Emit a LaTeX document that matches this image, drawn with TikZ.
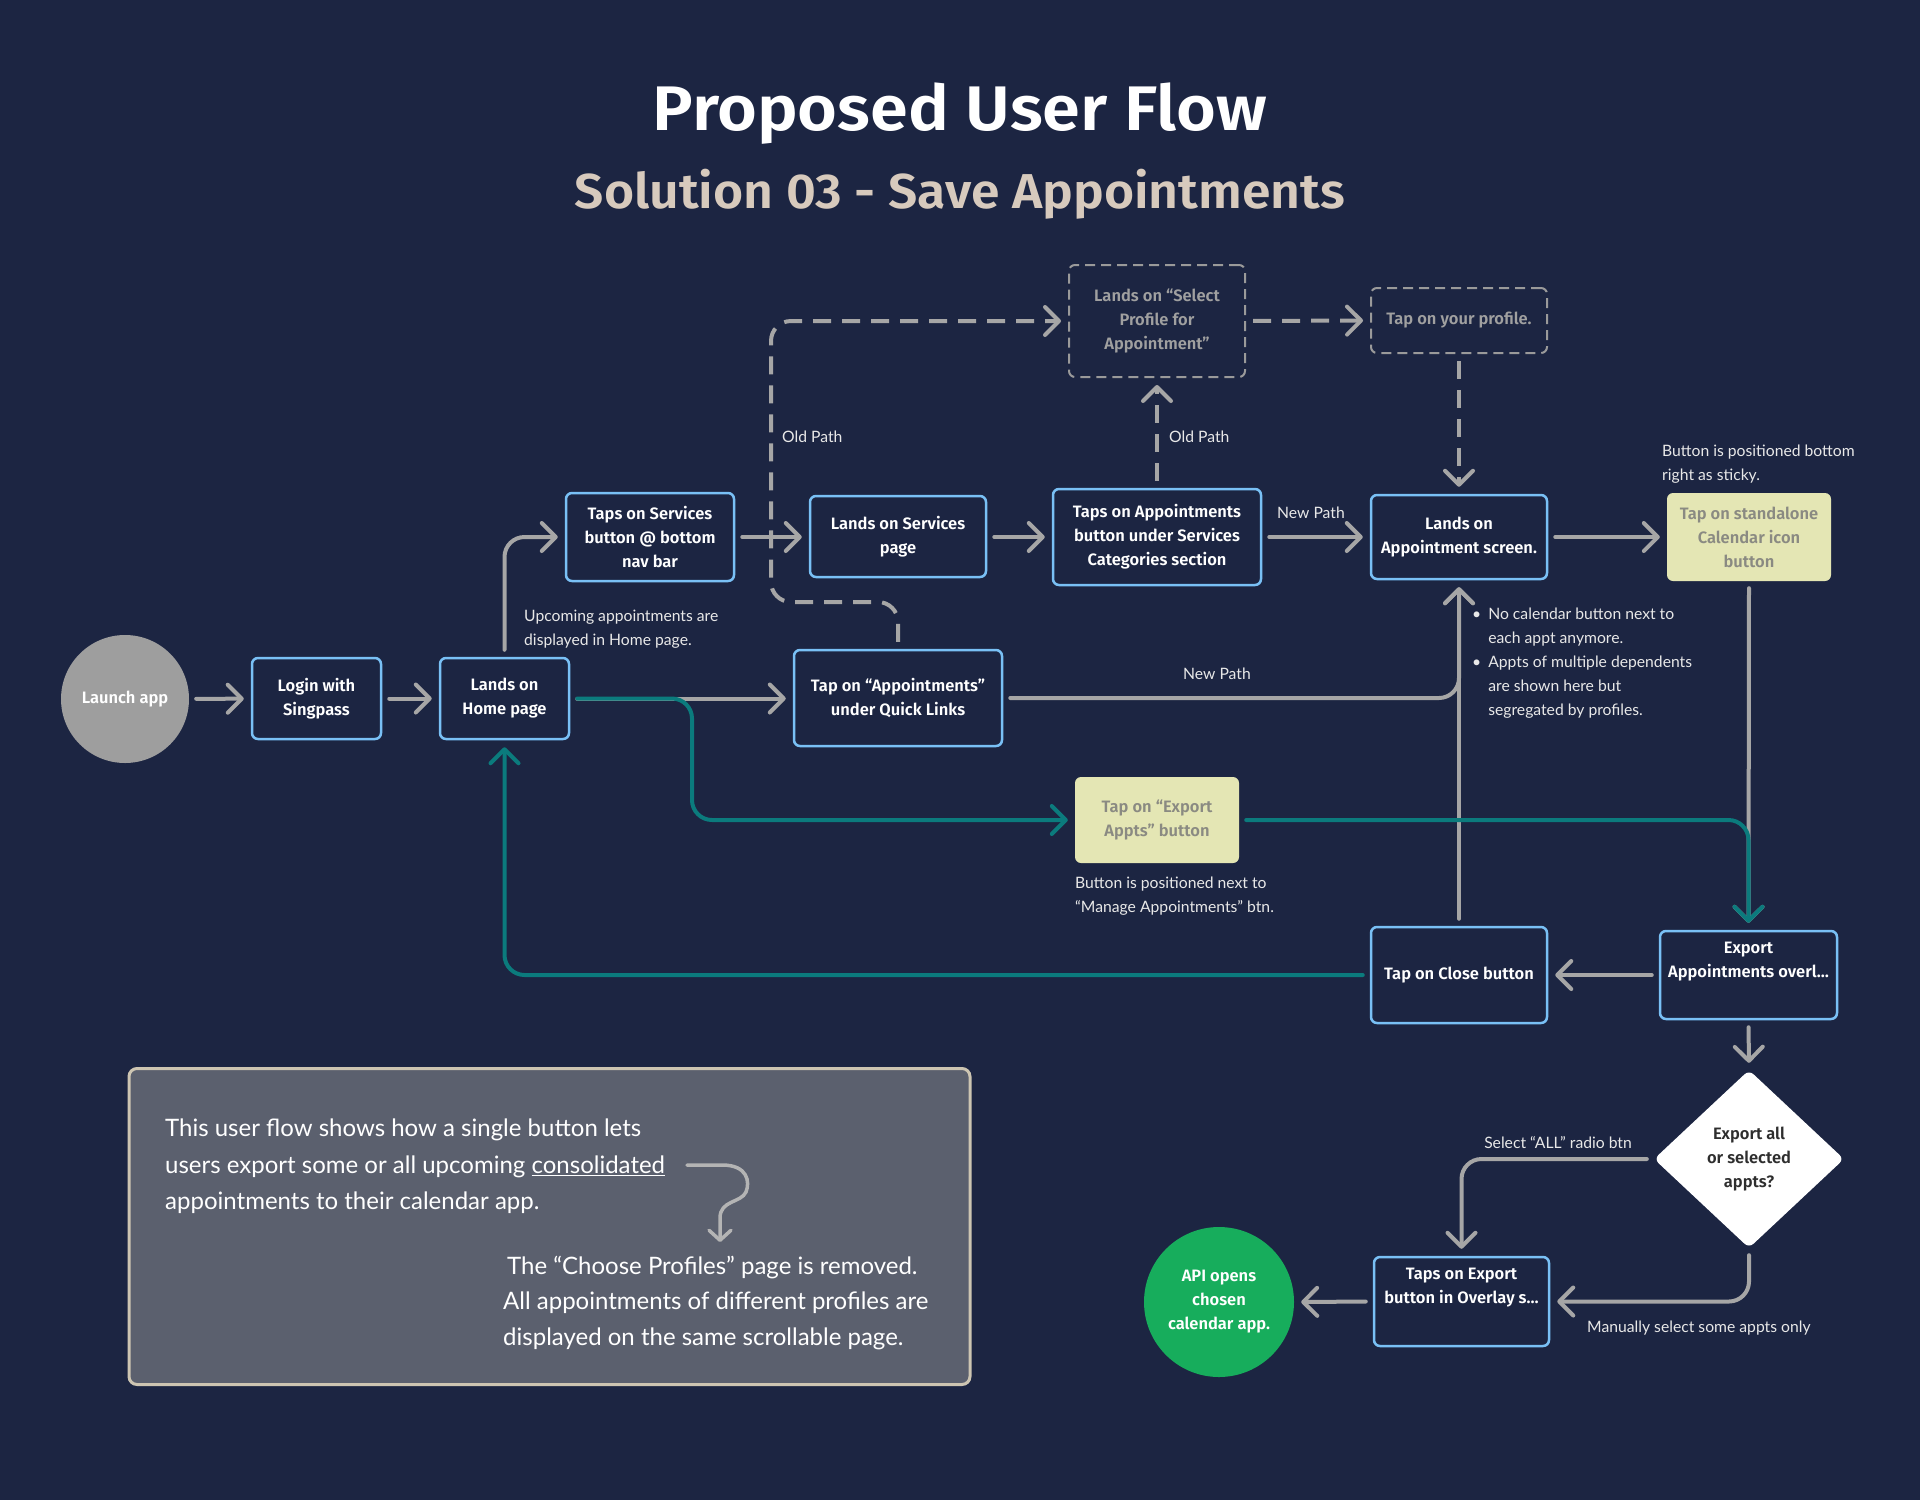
\documentclass[tikz,border=0pt]{standalone}
\usepackage{fontspec}
\setmainfont{Lato}
\newfontfamily\nodefont{Fira Sans}[BoldFont={Fira Sans SemiBold}]
\usetikzlibrary{arrows.meta,shapes.geometric}
\definecolor{bg}{HTML}{1C2542}
\definecolor{nblue}{HTML}{79C0F5}
\definecolor{agray}{HTML}{A6A6A6}
\definecolor{tealc}{HTML}{0B7B7D}
\definecolor{yfill}{HTML}{E4E6B4}
\definecolor{ytext}{HTML}{8A8A82}
\definecolor{dline}{HTML}{9A9A9A}
\definecolor{dtext}{HTML}{A0A0A0}
\definecolor{lgray}{HTML}{9E9E9E}
\definecolor{greenc}{HTML}{17AD5C}
\definecolor{darkc}{HTML}{2E2E2E}
\definecolor{nfill}{HTML}{5B606E}
\definecolor{nborder}{HTML}{CDC5B2}
\definecolor{subc}{HTML}{D7CABD}
\definecolor{anntext}{HTML}{E8E8E8}
\definecolor{cgray}{HTML}{B4B4B4}
\begin{document}
\begin{tikzpicture}[x=1pt,y=-1pt,
  nf/.style={font=\nodefont\bfseries\fontsize{16.5}{24}\selectfont},
  box/.style={nf, draw=nblue, line width=2.5pt, rounded corners=6pt, fill=bg, text=white, align=center, inner sep=0pt},
  ybox/.style={nf, fill=yfill, rounded corners=6pt, text=ytext, align=center, inner sep=0pt},
  dbox/.style={nf, draw=dline, line width=2pt, dash pattern=on 10pt off 6pt, rounded corners=6pt, text=dtext, align=center, inner sep=0pt},
  conn/.style={line width=4pt, rounded corners=20pt, shorten >=7pt, shorten <=7pt, -{Straight Barb[length=14pt,width=28pt,round]}},
  garrow/.style={conn, draw=agray, line cap=round},
  tarrow/.style={conn, draw=tealc, line cap=round},
  darrow/.style={conn, draw=agray, dash pattern=on 18pt off 11pt},
  ann/.style={font=\fontsize{15.7}{24}\selectfont, text=anntext, inner sep=0pt, align=left},
]
\fill[bg] (0,0) rectangle (1920,1500);
\useasboundingbox (0,0) rectangle (1920,1500);

% titles
\node[font=\nodefont\bfseries\fontsize{63}{70}\selectfont, text=white, anchor=base, inner sep=0pt] (title) at (960,130) {\scalebox{1.085}[1]{Proposed User Flow}};
\node[font=\nodefont\bfseries\fontsize{49}{56}\selectfont, text=subc, anchor=base, inner sep=0pt] (subtitle) at (960,208) {\scalebox{1.055}[1]{Solution 03 - Save Appointments}};

% nodes
\node[circle, fill=lgray, minimum size=128pt, inner sep=0pt, nf, text=white] (launch) at (125,699) {Launch app};
\node[box, minimum width=129pt, minimum height=81pt] (login) at (316.5,698.5) {Login with\\Singpass};
\node[box, minimum width=129pt, minimum height=81pt] (home) at (504.5,698.5) {Lands on\\Home page};
\node[box, minimum width=168pt, minimum height=88pt] (tapserv) at (650,537) {Taps on Services\\button @ bottom\\nav bar};
\node[box, minimum width=176pt, minimum height=81pt] (landserv) at (898,536.5) {Lands on Services\\page};
\node[box, minimum width=208pt, minimum height=96pt] (tapappt) at (1157,537) {Taps on Appointments\\button under Services\\Categories section};
\node[box, minimum width=176pt, minimum height=84pt] (landappt) at (1459,537) {Lands on\\Appointment screen.};
\node[ybox, minimum width=164pt, minimum height=88pt] (calbtn) at (1749,537) {Tap on standalone\\Calendar icon\\button};
\node[dbox, minimum width=176pt, minimum height=112pt] (selprof) at (1157,321) {Lands on “Select\\Profile for\\Appointment”};
\node[dbox, minimum width=176pt, minimum height=65pt] (tapprof) at (1459,320.5) {Tap on your profile.};
\node[box, minimum width=208pt, minimum height=96pt] (tapql) at (898,698) {Tap on “Appointments”\\under Quick Links};
\node[ybox, minimum width=164pt, minimum height=86pt] (exappts) at (1157,820) {Tap on “Export\\Appts” button};
\node[box, minimum width=176pt, minimum height=96pt] (close) at (1459,975) {Tap on Close button};
\node[box, minimum width=177pt, minimum height=88pt] (overlay) at (1748.5,975) {Export\\Appointments overl…\\\strut};
\node[diamond, fill=white, minimum width=190pt, minimum height=178pt, inner sep=0pt, rounded corners=6pt, nf, text=darkc, align=center] (decide) at (1749,1159) {Export all\\or selected\\appts?};
\node[box, minimum width=175pt, minimum height=89pt] (tapexp) at (1461.5,1301.5) {Taps on Export\\button in Overlay s…\\\strut};
\node[circle, fill=greenc, minimum size=150pt, inner sep=0pt, nf, text=white, align=center] (api) at (1219,1302) {API opens\\chosen\\calendar app.};

% annotations
\node[ann, anchor=west] (upc) at (524,629.5) {Upcoming appointments are\\displayed in Home page.};
\node[ann, anchor=west] (old1) at (782,437) {Old Path};
\node[ann, anchor=west] (old2) at (1169,437) {Old Path};
\node[ann, anchor=west] (new1) at (1277,513) {New Path};
\node[ann, anchor=center] (new2) at (1217,674) {New Path};
\node[ann, anchor=west] (sticky) at (1662,464) {Button is positioned bottom\\right as sticky.};
\node[ann, anchor=west] (bullets) at (1472,662.5) {\setlength{\tabcolsep}{0pt}\begin{tabular}{@{}l@{\hspace{7pt}}l@{}}
\textbullet & No calendar button next to\\
 & each appt anymore.\\
\textbullet & Appts of multiple dependents\\
 & are shown here but\\
 & segregated by profiles.
\end{tabular}};
\node[ann, anchor=west] (nextto) at (1075,896) {Button is positioned next to\\“Manage Appointments” btn.};
\node[ann, anchor=east] (selall) at (1632,1143) {Select “ALL” radio btn};
\node[ann, anchor=west] (manual) at (1587,1328) {Manually select some appts only};

% note box
\node[draw=nborder, fill=nfill, line width=3pt, rounded corners=8pt, minimum width=841pt, minimum height=316pt, inner sep=0pt] (note) at (549.5,1226.5) {};
\node[font=\fontsize{24}{36.5}\selectfont, text=white, inner sep=0pt, align=left, anchor=west] (note1) at (165,1166.5) {This user flow shows how a single button lets\\users export some or all upcoming \underline{consolidated}\\appointments to their calendar app.};
\node[font=\fontsize{24}{35.5}\selectfont, text=white, inner sep=0pt, align=left, anchor=west] (note2) at (503,1302.5) {\hspace{4pt}The “Choose Profiles” page is removed.\\All appointments of different profiles are\\displayed on the same scrollable page.};
\coordinate (cs) at (687,1165);
\coordinate (ce) at (720,1242);
\draw[line width=3.5pt, draw=cgray, line cap=round, -{Straight Barb[length=10pt,width=22pt,round]}] (cs) -- (722,1165) .. controls (748,1165) and (750,1182) .. (746,1192) .. controls (741,1203) and (720,1200) .. (720,1218) -- (ce);

% connectors
\draw[garrow] (launch) -- (login);
\draw[garrow] (login) -- (home);
\draw[garrow] (home.north) |- (tapserv.west);
\draw[garrow] (tapserv.east) -- (landserv.west |- tapserv.east);
\draw[garrow] (landserv.east |- tapappt.west) -- (tapappt.west);
\draw[garrow] (tapappt.east) -- (landappt.west);
\draw[garrow] (landappt.east) -- (calbtn.west);
\draw[garrow] (home.east) -- (tapql.west |- home.east);
\draw[garrow] (tapql.east) -| (landappt.south);
\draw[garrow] (close.north) -- (landappt.south);
\draw[garrow] (calbtn.south) -- (overlay.north);
\draw[garrow] (overlay.west) -- (close.east);
\draw[garrow] (overlay.south) -- (decide.north);
\draw[garrow] (decide.west) -| (tapexp.north);
\draw[garrow] (decide.south) |- (tapexp.east);
\draw[garrow] (tapexp.west) -- (api.east);

\draw[darrow] (tapql.north) -- (898,602) -- (771,602) -- (771,321) -- (selprof.west);
\draw[darrow] (tapappt.north) -- (selprof.south);
\draw[darrow] (selprof.east) -- (tapprof.west);
\draw[darrow] (tapprof.south) -- (landappt.north);

\draw[tarrow] (home.east) -- (692,698.5) -- (692,820) -- (exappts.west);
\draw[tarrow] (exappts.east) -| (overlay.north);
\draw[tarrow] (close.west) -| (home.south);
\end{tikzpicture}
\end{document}
